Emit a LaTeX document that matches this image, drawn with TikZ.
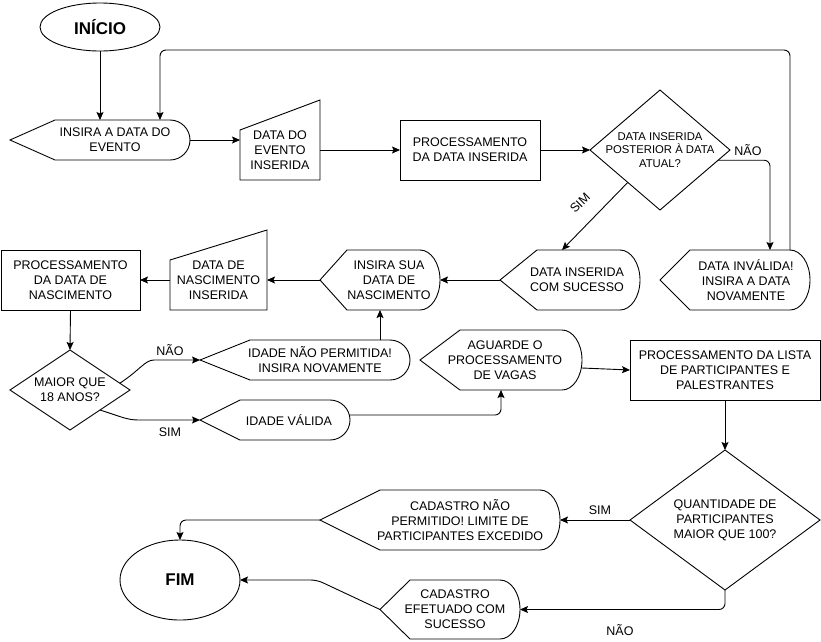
\documentclass[tikz,border=0pt]{standalone}
\usepackage{fontspec}
\setmainfont{Liberation Sans}
\usetikzlibrary{arrows.meta,calc,shapes.geometric}

% display shape: pointed left end, rounded right end
\newcommand\dispoutline[2]{%
  \draw[outline] (#1.west) -- ([xshift=#2]#1.north west) -- ([xshift=-20pt]#1.north east)
    .. controls ([xshift=-9pt]#1.north east) and ($(#1.east)!0.552!(#1.north east)$) .. (#1.east)
    .. controls ($(#1.east)!0.552!(#1.south east)$) and ([xshift=-9pt]#1.south east) .. ([xshift=-20pt]#1.south east)
    -- ([xshift=#2]#1.south west) -- cycle;}
% manual input: sloped top edge
\newcommand\manualoutline[1]{%
  \draw[outline] (#1.south west) -- ([yshift=-10pt]#1.north west) -- ([yshift=20pt]#1.north east) -- (#1.south east) -- cycle;}
% decision diamond spanning the node box
\newcommand\diamondoutline[1]{%
  \draw[outline] (#1.north) -- (#1.east) -- (#1.south) -- (#1.west) -- cycle;}

\begin{document}
\begin{tikzpicture}[x=1pt,y=-1pt,
  outline/.style={draw=black, line width=0.9pt, line join=miter},
  txt/.style={font=\fontsize{12.5}{15}\selectfont, align=center, inner sep=0pt},
  smalltxt/.style={font=\fontsize{11.3}{13.5}\selectfont, align=center, inner sep=0pt},
  hull/.style={draw=none, inner sep=0pt, outer sep=0pt},
  procbox/.style={draw, line width=0.9pt, txt, outer sep=0pt},
  terminal/.style={ellipse, draw, line width=0.9pt, inner sep=0pt, outer sep=0pt,
    font=\bfseries\fontsize{17}{20}\selectfont},
  flow/.style={line width=0.9pt, rounded corners=6pt,
    -{Stealth[length=8pt,width=7pt,inset=1.5pt]}}]

\fill[white] (0,0) rectangle (821,641);
\useasboundingbox (0,0) rectangle (821,641);

% ---- nodes ----
\node[terminal, minimum width=120pt, minimum height=48pt] (inicio) at (100,27) {INÍCIO};

\node[hull, minimum width=180pt, minimum height=40pt] (ins1) at (100,140) {};
\dispoutline{ins1}{45pt}
\node[txt] (ins1t) at ([xshift=15pt]ins1.center) {INSIRA A DATA DO\\EVENTO};

\node[hull, txt, minimum width=80pt, minimum height=60pt] (evt) at (280,150) {DATA DO\\EVENTO\\INSERIDA};
\manualoutline{evt}

\node[procbox, minimum width=140pt, minimum height=60pt] (proc1) at (470,150) {PROCESSAMENTO\\DA DATA INSERIDA};

\node[hull, smalltxt, minimum width=140pt, minimum height=120pt] (dec1) at (660,150) {DATA INSERIDA\\POSTERIOR À DATA\\ATUAL?};
\diamondoutline{dec1}

\node[hull, minimum width=150pt, minimum height=60pt] (inval) at (735,280) {};
\dispoutline{inval}{30pt}
\node[txt] (invalt) at ([xshift=11pt]inval.center) {DATA INVÁLIDA!\\INSIRA A DATA\\NOVAMENTE};

\node[hull, minimum width=140pt, minimum height=60pt] (suc) at (570,280) {};
\dispoutline{suc}{37pt}
\node[txt] (suct) at ([xshift=7pt]suc.center) {DATA INSERIDA\\COM SUCESSO};

\node[hull, minimum width=120pt, minimum height=60pt] (nasc) at (380,280) {};
\dispoutline{nasc}{27pt}
\node[txt] (nasct) at ([xshift=9pt]nasc.center) {INSIRA SUA\\DATA DE\\NASCIMENTO};

\node[hull, txt, minimum width=97pt, minimum height=60pt] (nascin) at (218.5,280) {DATA DE\\NASCIMENTO\\INSERIDA};
\manualoutline{nascin}

\node[procbox, minimum width=139pt, minimum height=60pt] (proc2) at (70.5,280) {PROCESSAMENTO\\DA DATA DE\\NASCIMENTO};

\node[hull, txt, minimum width=120pt, minimum height=80pt] (dec2) at (70,390) {MAIOR QUE\\18 ANOS?};
\diamondoutline{dec2}

\node[hull, minimum width=210pt, minimum height=40pt] (idnao) at (305,360) {};
\dispoutline{idnao}{50pt}
\node[txt] (idnaot) at ([xshift=15pt]idnao.center) {IDADE NÃO PERMITIDA!\\INSIRA NOVAMENTE};

\node[hull, minimum width=150pt, minimum height=40pt] (idval) at (275,420) {};
\dispoutline{idval}{40pt}
\node[txt] (idvalt) at ([xshift=14pt]idval.center) {IDADE VÁLIDA};

\node[hull, minimum width=162pt, minimum height=60pt] (agu) at (501,360) {};
\dispoutline{agu}{40pt}
\node[txt] (agut) at ([xshift=4pt]agu.center) {AGUARDE O\\PROCESSAMENTO\\DE VAGAS};

\node[procbox, minimum width=190pt, minimum height=60pt] (proc3) at (725,370) {PROCESSAMENTO DA LISTA\\DE PARTICIPANTES E\\PALESTRANTES};

\node[hull, txt, minimum width=190pt, minimum height=140pt] (dec3) at (725,520) {QUANTIDADE DE\\PARTICIPANTES\\MAIOR QUE 100?};
\diamondoutline{dec3}

\node[hull, minimum width=240pt, minimum height=60pt] (cadnao) at (440,520) {};
\dispoutline{cadnao}{60pt}
\node[txt] (cadnaot) at ([xshift=20pt]cadnao.center) {CADASTRO NÃO\\PERMITIDO! LIMITE DE\\PARTICIPANTES EXCEDIDO};

\node[hull, minimum width=140pt, minimum height=59pt] (cadok) at (450,609.5) {};
\dispoutline{cadok}{30pt}
\node[txt] (cadokt) at ([xshift=5pt]cadok.center) {CADASTRO\\EFETUADO COM\\SUCESSO};

\node[terminal, minimum width=120pt, minimum height=80pt] (fim) at (180,580) {FIM};

% ---- connectors ----
\draw[flow] (inicio.south) -- (ins1.north);
\coordinate (looptop) at (475,50);
\draw[flow] ([xshift=55pt]inval.north) |- (looptop) -| ([xshift=60pt]ins1.north);
\draw[flow] (ins1.east) -- (ins1.east -| evt.west);
\draw[flow] (evt.east) -- (proc1.west);
\draw[flow] (proc1.east) -- (dec1.west);

\draw[flow] ($(dec1.east)!0.17!(dec1.south)$) -| ([xshift=35pt]inval.north);
\node[txt] (naoA) at (748,150) {NÃO};
\draw[flow] ($(dec1.west)!0.54!(dec1.south)$) -- ([xshift=-8pt]suc.north);
\node[txt, rotate=45] (simA) at (580,203) {SIM};

\draw[flow] (suc.west) -- (nasc.east);
\draw[flow] (nasc.west) -- (nascin.east);
\draw[flow] (nascin.west) -- (proc2.east);
\draw[flow] (proc2.south) -- (dec2.north);

\draw[flow] ($(dec2.north)!0.83!(dec2.east)$) .. controls +(20,-13) and +(-15,0) .. ([xshift=-40pt]idnao.west) -- (idnao.west);
\node[txt] (naoB) at (170,350) {NÃO};
\draw[flow] ($(dec2.south)!0.5!(dec2.east)$) .. controls +(22,7) and +(-18,0) .. ([xshift=-55pt]idval.west) -- (idval.west);
\node[txt] (simB) at (170,432) {SIM};

\draw[flow] (nasc.south |- idnao.north) -- (nasc.south);
\draw[flow] ([yshift=5pt]idval.east) -| (agu.south);
\draw[flow] ([yshift=-8pt]agu.east) -- (proc3.west);
\draw[flow] (proc3.south) -- (dec3.north);

\draw[flow] (dec3.west) -- (cadnao.east);
\node[txt] (simC) at (600,510) {SIM};
\draw[flow] (dec3.south) |- (cadok.east);
\node[txt] (naoC) at (620,630) {NÃO};

\draw[flow] (cadnao.west) -| (fim.north);
\draw[flow] (cadok.west) -- ([xshift=77pt]fim.east) -- (fim.east);
\end{tikzpicture}
\end{document}
